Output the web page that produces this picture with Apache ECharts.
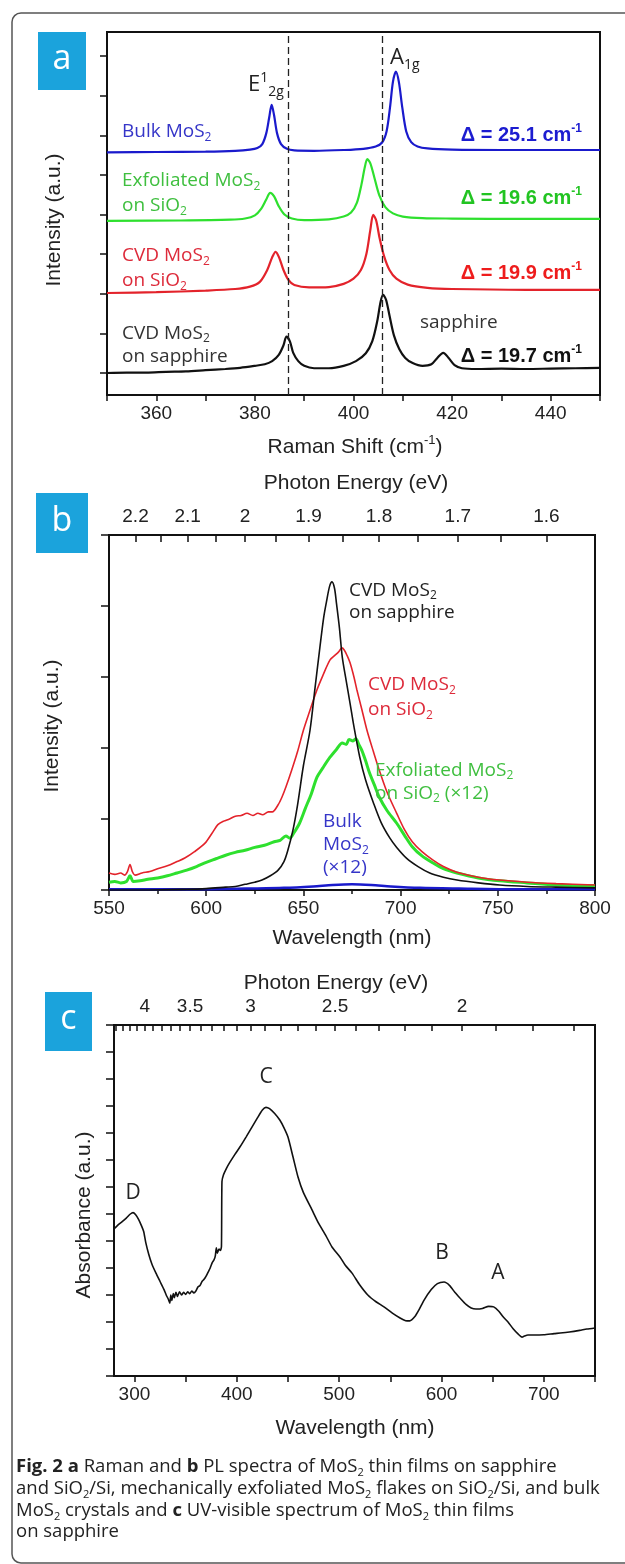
<!DOCTYPE html>
<html><head><meta charset="utf-8">
<script src="https://cdn.jsdelivr.net/npm/echarts@6/dist/echarts.min.js"></script>
<style>html,body{margin:0;padding:0;background:#fff}#c{width:625px;height:1564px}</style>
</head><body><div id="c"></div>
<script>
// ---------------- Panel a : Raman spectra (x: cm-1, y: offset intensity) ----------------
const ramanBulk = [[350,5.57],[360,5.58],[370,5.59],[376,5.61],[379,5.64],[380.5,5.68],[381.5,5.78],[382.3,6.05],[382.9,6.45],[383.4,6.77],[383.9,6.5],[384.5,6.05],[385.3,5.78],[386.5,5.66],[388,5.62],[392,5.61],[398,5.63],[402,5.66],[404.5,5.72],[405.8,5.82],[406.7,6.1],[407.4,6.7],[408,7.35],[408.6,7.61],[409.2,7.35],[409.9,6.7],[410.7,6.1],[411.7,5.83],[413,5.72],[415,5.67],[420,5.64],[430,5.63],[440,5.63],[450,5.63]];
const ramanExfoliated = [[350,3.84],[365,3.85],[375,3.87],[378,3.9],[380,3.98],[381.3,4.15],[382.3,4.38],[383.1,4.55],[383.9,4.46],[384.8,4.22],[386,4.0],[387.5,3.9],[390,3.86],[395,3.88],[398,3.95],[399.5,4.05],[400.7,4.3],[401.6,4.75],[402.3,5.2],[402.8,5.4],[403.4,5.3],[404.2,4.95],[405.2,4.5],[406.5,4.18],[408,4.03],[410,3.95],[414,3.91],[420,3.9],[435,3.89],[450,3.89]];
const ramanCvdSiO2 = [[350,2.02],[360,2.04],[370,2.08],[376,2.12],[379,2.18],[381,2.3],[382.5,2.6],[383.5,2.92],[384.2,3.06],[384.9,2.92],[385.8,2.6],[386.8,2.35],[388,2.22],[391,2.16],[395,2.17],[398,2.25],[400,2.38],[401.5,2.6],[402.6,3.0],[403.4,3.6],[404,3.99],[404.6,3.85],[405.3,3.4],[406.2,2.95],[407.3,2.6],[408.7,2.38],[411,2.23],[415,2.15],[420,2.12],[435,2.1],[450,2.1]];
const ramanCvdSapphire = [[350,0.0],[354,0.01],[358,0.01],[362,0.03],[366,0.04],[370,0.07],[374,0.1],[377,0.13],[380,0.18],[382,0.22],[383.5,0.3],[384.8,0.45],[385.8,0.7],[386.4,0.92],[387.1,0.8],[387.8,0.5],[388.8,0.3],[390,0.18],[392,0.12],[395,0.12],[398,0.18],[400.5,0.3],[402.5,0.5],[403.8,0.8],[404.8,1.3],[405.5,1.8],[406,1.97],[406.6,1.85],[407.3,1.45],[408.2,0.95],[409.3,0.6],[410.5,0.38],[412,0.25],[414,0.18],[415.8,0.22],[417,0.38],[418.2,0.51],[419.3,0.38],[420.5,0.2],[422,0.12],[425,0.1],[430,0.11],[435,0.1],[440,0.11],[445,0.12],[450,0.13]];
const ramanDashed = [386.8, 405.8];
const ramanXTicks = [350,360,370,380,390,400,410,420,430,440,450];
const ramanXLabels = [360,380,400,420,440];
const ramanYTicks = [0,1,2,3,4,5,6,7,8];

// ---------------- Panel b : PL spectra (x: nm) ----------------
const plCvdSapphire = [[550,0.0],[570,0.0],[590,0.01],[600,0.02],[610,0.04],[615,0.05],[620,0.08],[625,0.11],[628.7,0.14],[633,0.2],[637,0.28],[640,0.4],[642,0.56],[644.6,0.84],[647,1.2],[650,1.75],[653.4,2.25],[656,2.85],[658.5,3.42],[660.5,3.85],[662,4.08],[663.5,4.28],[664.7,4.34],[666,4.25],[667,4.04],[668.5,3.7],[670,3.28],[672,2.95],[674,2.63],[676,2.3],[679,1.87],[682,1.55],[686,1.23],[690,0.95],[694.5,0.73],[698,0.6],[703,0.45],[709,0.33],[715,0.24],[722,0.18],[729,0.14],[740,0.1],[751,0.07],[765,0.05],[780,0.04],[800,0.03]];
const plCvdSiO2 = [[550,0.24],[553,0.22],[556,0.24],[558,0.21],[559.5,0.26],[560.8,0.36],[562,0.26],[563.4,0.21],[567,0.24],[571,0.26],[575,0.3],[580,0.34],[585,0.4],[589,0.45],[594,0.54],[599.4,0.66],[603,0.8],[606,0.92],[609,0.97],[612,1.0],[615,1.04],[618,1.05],[621,1.08],[624,1.05],[626.6,1.08],[629,1.06],[632,1.1],[634,1.1],[637,1.2],[639,1.31],[641,1.45],[644,1.69],[647,1.95],[650,2.25],[653,2.5],[657,2.82],[660,3.02],[663.7,3.24],[666,3.3],[668,3.35],[669.8,3.41],[671,3.38],[672.5,3.3],[674,3.2],[676,3.0],[677.5,2.82],[680,2.55],[682.7,2.25],[686,1.95],[689,1.69],[693,1.38],[698,1.08],[702,0.85],[706,0.68],[711,0.54],[716.7,0.42],[722,0.33],[729,0.25],[740,0.18],[751,0.14],[765,0.11],[780,0.09],[800,0.07]];
const plExfoliated = [[550,0.11],[553,0.12],[556,0.1],[559,0.12],[560.8,0.2],[562.5,0.12],[566,0.13],[570,0.15],[575,0.17],[580,0.2],[585,0.24],[590,0.28],[595,0.33],[600,0.39],[605,0.44],[610,0.49],[615,0.53],[620,0.56],[625,0.6],[630,0.63],[635,0.68],[638,0.7],[641,0.76],[643,0.73],[645,0.8],[648,0.94],[651,1.15],[654,1.35],[657,1.59],[660,1.72],[663.7,1.87],[667,1.98],[670,2.07],[672,2.05],[673.5,2.12],[675.5,2.1],[677,2.13],[678.5,2.05],[680,1.97],[682,1.82],[684,1.65],[686.5,1.48],[689,1.31],[693,1.12],[698,0.94],[702,0.77],[706,0.61],[711,0.48],[716.7,0.38],[722,0.3],[729,0.24],[740,0.17],[751,0.13],[765,0.1],[780,0.07],[800,0.06]];
const plBulk = [[550,0.01],[580,0.01],[600,0.01],[620,0.02],[640,0.03],[655,0.05],[665,0.07],[675,0.08],[685,0.07],[695,0.05],[710,0.03],[730,0.02],[760,0.01],[800,0.01]];
const plEnergyLabels = [2.2,2.1,2.0,1.9,1.8,1.7,1.6];
const plEnergyMinor = [2.15,2.05,1.95,1.85,1.75,1.65];

// ---------------- Panel c : UV-vis absorbance (x: nm) ----------------
const uvAbsorbance = [[280,5.45],[284,5.6],[288,5.72],[292,5.85],[296,6.0],[298.6,6.05],[301,5.98],[304,5.8],[307,5.55],[309,5.35],[311,4.95],[314,4.5],[317,4.15],[321,3.81],[325,3.5],[329,3.19],[331,3.0],[333,2.85],[334.5,2.7],[335.5,3.0],[336.5,2.8],[338,3.05],[339,2.9],[340.5,3.1],[342,2.95],[344,3.12],[346,3.0],[348,3.1],[350,3.02],[352,3.12],[354,3.05],[356,3.15],[358,3.08],[360,3.15],[362,3.3],[364,3.35],[366,3.5],[368,3.58],[370,3.7],[372,3.85],[374,4.0],[376,4.2],[377.7,4.3],[379,4.45],[380,4.75],[381,4.55],[382.6,4.7],[384,4.65],[385,4.8],[385.5,7.2],[387,7.45],[390,7.7],[393,7.9],[398,8.2],[403,8.48],[409,8.85],[414.8,9.22],[420,9.55],[425,9.85],[428.5,9.95],[432,9.9],[437,9.72],[442,9.48],[446,9.2],[450,8.85],[455,8.1],[459.8,7.37],[465,6.8],[473.5,6.15],[480,5.65],[487,5.2],[493,4.78],[500.8,4.41],[506,4.1],[512.6,3.81],[520,3.38],[528,3.0],[536,2.75],[543.8,2.56],[552,2.33],[559.5,2.15],[565,2.05],[569,2.04],[574,2.2],[578,2.45],[583,2.81],[590,3.2],[596,3.42],[602.5,3.48],[608,3.35],[613,3.1],[618,2.89],[624,2.65],[629,2.52],[633.7,2.48],[640,2.5],[646,2.58],[651,2.56],[656,2.4],[660,2.2],[665,2.0],[670,1.75],[675,1.55],[678.7,1.44],[681,1.48],[684.5,1.52],[690,1.52],[700,1.53],[710,1.57],[716,1.59],[725,1.63],[735,1.69],[742,1.74],[750,1.78]];
const uvXTicks = [300,350,400,450,500,550,600,650,700,750];
const uvXLabels = [300,400,500,600,700];
const uvEnergyLabels = [4,3.5,3,2.5,2];
const uvEnergyMinor = [4.4,4.3,4.2,4.1,3.9,3.8,3.7,3.6,3.4,3.3,3.2,3.1,2.9,2.8,2.7,2.6,2.4,2.3,2.2,2.1,1.9,1.8,1.7];

// ---------------- styling ----------------
const AX = 'Liberation Sans';
const TX = 'Open Sans';
const C_BLUE = '#1a1acc', C_GREEN = '#2ee02e', C_RED = '#e3232b', C_BLACK = '#111';
const toNm = e => 1240 / e;
const eLabel = v => String(Math.round(1240 / v * 100) / 100);

function ax(o) {
  const base = {
    type: 'value', splitLine: {show: false},
    axisLine: {show: true, onZero: false, lineStyle: {color: '#111', width: 2}},
    axisTick: {show: true, inside: false, length: 6, lineStyle: {color: '#111', width: 1.5}},
    axisLabel: {show: false, fontFamily: AX, fontSize: 19, color: '#222', margin: 9},
    minorTick: {show: false}
  };
  for (const k in o) {
    if (base[k] && typeof base[k] === 'object' && !Array.isArray(base[k])) base[k] = Object.assign({}, base[k], o[k]);
    else base[k] = o[k];
  }
  return base;
}

const xAxis = [
  ax({gridIndex: 0, min: 350, max: 450, position: 'bottom',
      axisTick: {customValues: ramanXTicks, length: 6},
      axisLabel: {show: true, customValues: ramanXLabels}}),
  ax({gridIndex: 1, min: 550, max: 800, interval: 50, position: 'bottom',
      axisLabel: {show: true}, minorTick: {show: true, splitNumber: 2, length: 4, lineStyle: {color: '#111', width: 1.5}}}),
  ax({gridIndex: 1, min: 550, max: 800, position: 'top',
      axisTick: {inside: true, length: 7, customValues: plEnergyLabels.concat(plEnergyMinor).map(toNm)},
      axisLabel: {show: true, customValues: plEnergyLabels.map(toNm), formatter: eLabel}}),
  ax({gridIndex: 2, min: 280, max: 750, position: 'bottom',
      axisTick: {customValues: uvXTicks},
      axisLabel: {show: true, customValues: uvXLabels}}),
  ax({gridIndex: 2, min: 280, max: 750, position: 'top',
      axisTick: {inside: true, length: 6, customValues: uvEnergyLabels.concat(uvEnergyMinor).map(toNm)},
      axisLabel: {show: true, customValues: uvEnergyLabels.map(toNm), formatter: eLabel}})
];
const yAxis = [
  ax({gridIndex: 0, min: -0.556, max: 8.61, axisTick: {customValues: ramanYTicks, length: 7}}),
  ax({gridIndex: 1, min: 0, max: 5, interval: 1, axisTick: {length: 8}}),
  ax({gridIndex: 2, min: 0, max: 13, interval: 1, axisTick: {length: 8}})
];

function line(data, color, width, xi, yi, extra) {
  return Object.assign({type: 'line', data, xAxisIndex: xi, yAxisIndex: yi, showSymbol: false, symbol: 'none',
    smooth: 0.3, lineStyle: {color, width}, animation: false, silent: true}, extra || {});
}

const series = [
  line(ramanBulk, C_BLUE, 2.2, 0, 0),
  line(ramanExfoliated, C_GREEN, 2.2, 0, 0),
  line(ramanCvdSiO2, C_RED, 2.2, 0, 0),
  line(ramanCvdSapphire, C_BLACK, 2.2, 0, 0, {
    markLine: {silent: true, symbol: ['none', 'none'], label: {show: false}, animation: false,
      lineStyle: {color: '#222', type: [7, 4], width: 1.3},
      data: ramanDashed.map(v => ({xAxis: v}))}
  }),
  line(plBulk, C_BLUE, 2.5, 1, 1),
  line(plExfoliated, C_GREEN, 3, 1, 1),
  line(plCvdSiO2, C_RED, 1.6, 1, 1),
  line(plCvdSapphire, C_BLACK, 1.6, 1, 1),
  line(uvAbsorbance, C_BLACK, 1.6, 3, 2, {smooth: 0.2})
];

// ---------- text helpers ----------
function rich(fs, color, weight, fam) {
  return {
    m: {fontSize: fs, fontFamily: fam, fontWeight: weight, fill: color, lineHeight: Math.round(fs * 1.25)},
    s: {fontSize: Math.round(fs * 0.62), fontFamily: fam, fontWeight: weight, fill: color, lineHeight: Math.round(fs * 0.62), verticalAlign: 'bottom'},
    p: {fontSize: Math.round(fs * 0.62), fontFamily: fam, fontWeight: weight, fill: color, lineHeight: Math.round(fs * 0.62), verticalAlign: 'top'},
    b: {fontSize: fs, fontFamily: fam, fontWeight: 'bold', fill: color, lineHeight: Math.round(fs * 1.25)}
  };
}
function txt(x, y, text, fs, color, opts) {
  opts = opts || {};
  const r = rich(fs, color, opts.weight || 'normal', opts.fam || TX);
  if (opts.lh) { r.m.lineHeight = opts.lh; r.b.lineHeight = opts.lh; }
  return {type: 'text', x, y, rotation: opts.rot || 0, z: 100,
    style: {x: 0, y: 0, text, rich: r, fill: color, fontSize: fs, fontFamily: opts.fam || TX,
      align: opts.align || 'left', textAlign: opts.align || 'left', verticalAlign: 'middle', textVerticalAlign: 'middle'}};
}
function letterBox(x, y, w, h, ch) {
  return [
    {type: 'rect', shape: {x, y, width: w, height: h}, style: {fill: '#1ba3dc'}, z: 100},
    {type: 'text', x: x + w / 2, y: y + h / 2 - 2, z: 101, style: {x: 0, y: 0, text: ch, fill: '#fff', fontSize: 34, fontFamily: TX,
      align: 'center', textAlign: 'center', verticalAlign: 'middle', textVerticalAlign: 'middle'}}
  ];
}

const CAP = 18.5;
const graphic = [
  {type: 'rect', shape: {x: 12, y: 13, width: 650, height: 1550, r: 9}, style: {fill: 'none', stroke: '#555', lineWidth: 1.5}, z: 99},
  ...letterBox(38, 32, 48, 58, 'a'),
  ...letterBox(36, 493, 52, 60, 'b'),
  ...letterBox(45, 992, 47, 59, 'c'),
  // panel a
  txt(248, 85, '{m|E}{p|1}{s|2g}', 22, '#222'),
  txt(390, 58, '{m|A}{s|1g}', 22, '#222'),
  txt(122, 132, '{m|Bulk MoS}{s|2}', 19, '#3535c8'),
  txt(122, 193, '{m|Exfoliated MoS}{s|2}\n{m|on SiO}{s|2}', 19, '#3fbf3f', {lh: 25}),
  txt(122, 268, '{m|CVD MoS}{s|2}\n{m|on SiO}{s|2}', 19, '#dd2a3a', {lh: 25}),
  txt(122, 345, '{m|CVD MoS}{s|2}\n{m|on sapphire}', 19, '#333', {lh: 23}),
  txt(420, 323, '{m|sapphire}', 19, '#333'),
  txt(582, 135, '{m|Δ = 25.1 cm}{p|-1}', 20, '#1c1cd0', {weight: 'bold', fam: AX, align: 'right'}),
  txt(582, 198, '{m|Δ = 19.6 cm}{p|-1}', 20, '#22c422', {weight: 'bold', fam: AX, align: 'right'}),
  txt(582, 273, '{m|Δ = 19.9 cm}{p|-1}', 20, '#ee1c1c', {weight: 'bold', fam: AX, align: 'right'}),
  txt(582, 356, '{m|Δ = 19.7 cm}{p|-1}', 20, '#111', {weight: 'bold', fam: AX, align: 'right'}),
  txt(54, 220, '{m|Intensity (a.u.)}', 21, '#222', {fam: AX, align: 'center', rot: Math.PI / 2}),
  txt(355, 447, '{m|Raman Shift (cm}{p|-1}{m|)}', 21, '#222', {fam: AX, align: 'center'}),
  // panel b
  txt(356, 483, '{m|Photon Energy (eV)}', 21, '#222', {fam: AX, align: 'center'}),
  txt(352, 938, '{m|Wavelength (nm)}', 21, '#222', {fam: AX, align: 'center'}),
  txt(52, 726, '{m|Intensity (a.u.)}', 21, '#222', {fam: AX, align: 'center', rot: Math.PI / 2}),
  txt(349, 602, '{m|CVD MoS}{s|2}\n{m|on sapphire}', 19, '#222', {lh: 22}),
  txt(368, 697, '{m|CVD MoS}{s|2}\n{m|on SiO}{s|2}', 19, '#dd2a3a', {lh: 25}),
  txt(375, 782, '{m|Exfoliated MoS}{s|2}\n{m|on SiO}{s|2}{m| (×12)}', 19, '#3fbf3f', {lh: 23}),
  txt(323, 845, '{m|Bulk}\n{m|MoS}{s|2}\n{m|(×12)}', 19, '#3535c8', {lh: 23}),
  // panel c
  txt(336, 983, '{m|Photon Energy (eV)}', 21, '#222', {fam: AX, align: 'center'}),
  txt(355, 1428, '{m|Wavelength (nm)}', 21, '#222', {fam: AX, align: 'center'}),
  txt(84, 1215, '{m|Absorbance (a.u.)}', 21, '#222', {fam: AX, align: 'center', rot: Math.PI / 2}),
  txt(133, 1193, '{m|D}', 21, '#222', {align: 'center'}),
  txt(266, 1077, '{m|C}', 21, '#222', {align: 'center'}),
  txt(442, 1253, '{m|B}', 21, '#222', {align: 'center'}),
  txt(498, 1273, '{m|A}', 21, '#222', {align: 'center'}),
  // caption
  txt(16, 1467, '{b|Fig. 2 a}{m| Raman and }{b|b}{m| PL spectra of MoS}{s|2}{m| thin films on sapphire}', CAP, '#222'),
  txt(16, 1489, '{m|and SiO}{s|2}{m|/Si, mechanically exfoliated MoS}{s|2}{m| flakes on SiO}{s|2}{m|/Si, and bulk}', CAP, '#222'),
  txt(16, 1511, '{m|MoS}{s|2}{m| crystals and }{b|c}{m| UV-visible spectrum of MoS}{s|2}{m| thin films}', CAP, '#222'),
  txt(16, 1532, '{m|on sapphire}', CAP, '#222')
];

const chart = echarts.init(document.getElementById('c'), null, {renderer: 'canvas'});
chart.setOption({
  backgroundColor: '#fff',
  animation: false,
  grid: [
    {left: 107, top: 32, width: 493, height: 363, show: true, borderColor: '#111', borderWidth: 2, containLabel: false},
    {left: 109, top: 535, width: 486, height: 355, show: true, borderColor: '#111', borderWidth: 2, containLabel: false},
    {left: 114, top: 1025, width: 481, height: 351, show: true, borderColor: '#111', borderWidth: 2, containLabel: false}
  ],
  xAxis, yAxis, series, graphic
});
</script></body></html>
